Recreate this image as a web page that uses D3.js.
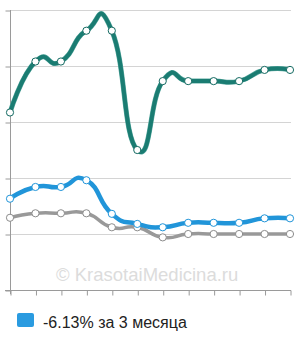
<!DOCTYPE html>
<html>
<head>
  <meta charset="utf-8">
  <title>chart</title>
  <style>
    body { margin: 0; background: #fff; }
    text { font-family: "Liberation Sans", Arial, sans-serif; }
  </style>
</head>
<body>
  <script src="https://d3js.org/d3.v7.min.js"></script>
  <script>
    var months = d3.range(12);
    var teal = [3.17, 4.08, 4.08, 4.63, 4.63, 2.5, 3.73, 3.73, 3.73, 3.73, 3.93, 3.93];
    var blue = [1.63, 1.84, 1.84, 1.96, 1.36, 1.18, 1.12, 1.2, 1.2, 1.2, 1.28, 1.28];
    var gray = [1.29, 1.37, 1.37, 1.37, 1.12, 1.12, 0.94, 1.0, 1.0, 1.0, 1.0, 1.0];
    var yTicks = [0, 1, 2, 3, 4, 5];
    var legendText = '-6.13% за 3 месяца';
    var watermark = '© KrasotaiMedicina.ru';

    var width = 300, height = 340;
    var svg = d3.select('body').append('svg')
      .attr('width', width).attr('height', height);

    var x = d3.scaleLinear().domain([0, 11]).range([10, 290]);
    var y = d3.scaleLinear().domain([0, 5]).range([290, 10]);

    // сетка
    svg.append('g').selectAll('line').data(yTicks.slice(1)).enter()
      .append('line')
      .attr('x1', 10).attr('x2', 291)
      .attr('y1', d => y(d) + 0.5).attr('y2', d => y(d) + 0.5)
      .attr('stroke', '#d4d4d4');

    // оси
    var yAxis = svg.append('g').attr('transform', 'translate(10.5,0.5)')
      .call(d3.axisLeft(y).tickValues(yTicks).tickSize(5).tickFormat(''));
    var xAxis = svg.append('g').attr('transform', 'translate(0.5,' + (y(0) + 0.5) + ')')
      .call(d3.axisBottom(x).tickValues(months).tickSize(5).tickFormat(''));
    [yAxis, xAxis].forEach(a => {
      a.select('.domain').remove();
      a.selectAll('line').attr('stroke', '#9a9a9a');
    });
    svg.append('line').attr('x1', 10.5).attr('x2', 10.5).attr('y1', 10).attr('y2', 294)
      .attr('stroke', '#9a9a9a');
    svg.append('line').attr('x1', 5).attr('x2', 291).attr('y1', 290.5).attr('y2', 290.5)
      .attr('stroke', '#9a9a9a');

    // водяной знак
    svg.append('text').attr('x', 56).attr('y', 281)
      .attr('font-size', 18.5).attr('fill', '#dcdcdc').text(watermark);

    var line = d3.line()
      .x((d, i) => x(i))
      .y(d => y(d))
      .curve(d3.curveCardinal.tension(-0.7));

    var series = [
      { data: gray, color: '#999999', dot: '#8c8c8c', w: 3.5 },
      { data: blue, color: '#2195d9', dot: '#2195d9', w: 4.5 },
      { data: teal, color: '#1a7c72', dot: '#146a62', w: 4 }
    ];

    series.forEach(s => {
      if (s.data === teal) {
        svg.append('path').datum(s.data)
          .attr('d', line).attr('fill', 'none')
          .attr('stroke', '#5aa9a0').attr('stroke-width', 5);
      }
      svg.append('path').datum(s.data)
        .attr('d', line).attr('fill', 'none')
        .attr('stroke', s.color).attr('stroke-width', s.w)
        .attr('stroke-linejoin', 'round');
      svg.append('g').selectAll('circle').data(s.data).enter()
        .append('circle')
        .attr('cx', (d, i) => x(i))
        .attr('cy', d => y(d))
        .attr('r', 3.6)
        .attr('fill', '#fff')
        .attr('stroke', s.dot).attr('stroke-width', 1);
    });

    // легенда
    svg.append('rect').attr('x', 17).attr('y', 313).attr('width', 17).attr('height', 14)
      .attr('rx', 2).attr('fill', '#2a9be0');
    svg.append('text').attr('x', 43).attr('y', 327.5)
      .attr('font-size', 16).attr('fill', '#222').text(legendText);
  </script>
</body>
</html>
